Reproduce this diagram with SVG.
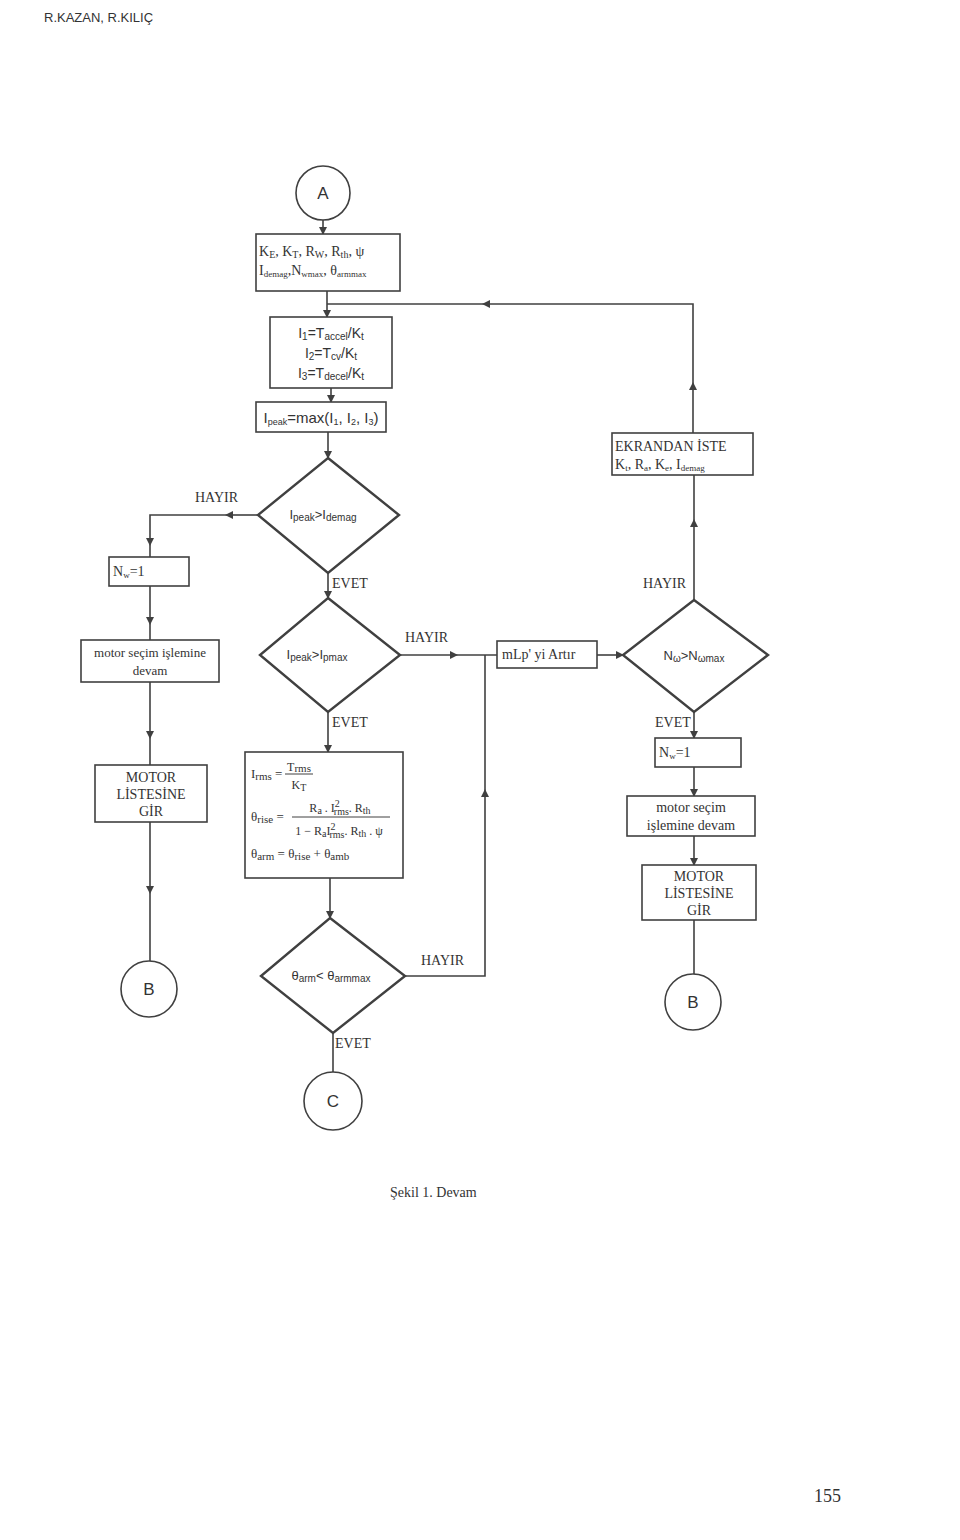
<svg xmlns="http://www.w3.org/2000/svg" width="960" height="1540" viewBox="0 0 960 1540">
<defs>
<marker id="arr" viewBox="0 0 8 8" refX="7" refY="4" markerWidth="8" markerHeight="8" markerUnits="userSpaceOnUse" orient="auto">
<path d="M0,0 L8,4 L0,8 z" fill="#404040"/>
</marker>
<style>
.box{fill:#fff;stroke:#404040;stroke-width:1.6}
.dia{fill:#fff;stroke:#404040;stroke-width:2.4}
.cir{fill:#fff;stroke:#404040;stroke-width:1.6}
.ln{fill:none;stroke:#404040;stroke-width:1.6}
.ser{font-family:"Liberation Serif",serif;fill:#333}
.san{font-family:"Liberation Sans",sans-serif;fill:#333}
</style>
</defs>
<rect width="960" height="1540" fill="#fff"/>
<text x="44" y="22" class="san" font-size="13" fill="#444">R.KAZAN, R.KILIÇ</text>

<g id="connectors">
<path class="ln" d="M323,220 V234" marker-end="url(#arr)"/>
<path class="ln" d="M327,291 V317" marker-end="url(#arr)"/>
<path class="ln" d="M693,433 V383" marker-end="url(#arr)"/>
<path class="ln" d="M693,383 V304 H483" marker-end="url(#arr)"/>
<path class="ln" d="M483,304 H327"/>
<path class="ln" d="M331,388 V402" marker-end="url(#arr)"/>
<path class="ln" d="M328,432 V458" marker-end="url(#arr)"/>
<path class="ln" d="M258,515 H226" marker-end="url(#arr)"/>
<path class="ln" d="M226,515 H150 V545" marker-end="url(#arr)"/>
<path class="ln" d="M150,545 V557"/>
<path class="ln" d="M150,586 V624" marker-end="url(#arr)"/>
<path class="ln" d="M150,624 V640"/>
<path class="ln" d="M150,682 V738" marker-end="url(#arr)"/>
<path class="ln" d="M150,738 V765"/>
<path class="ln" d="M150,822 V893" marker-end="url(#arr)"/>
<path class="ln" d="M150,893 V961"/>
<path class="ln" d="M328,573 V598" marker-end="url(#arr)"/>
<path class="ln" d="M400,655 H457" marker-end="url(#arr)"/>
<path class="ln" d="M457,655 H497"/>
<path class="ln" d="M597,655 H623" marker-end="url(#arr)"/>
<path class="ln" d="M694,600 V520" marker-end="url(#arr)"/>
<path class="ln" d="M694,520 V475"/>
<path class="ln" d="M694,712 V738" marker-end="url(#arr)"/>
<path class="ln" d="M694,767 V796" marker-end="url(#arr)"/>
<path class="ln" d="M694,836 V865" marker-end="url(#arr)"/>
<path class="ln" d="M694,920 V974"/>
<path class="ln" d="M328,712 V752" marker-end="url(#arr)"/>
<path class="ln" d="M330,878 V918" marker-end="url(#arr)"/>
<path class="ln" d="M405,976 H485 V790" marker-end="url(#arr)"/>
<path class="ln" d="M485,790 V655"/>
<path class="ln" d="M333,1033 V1073"/>
<text x="195" y="502" class="ser" font-size="14">HAYIR</text>
<text x="332" y="588" class="ser" font-size="14">EVET</text>
<text x="405" y="642" class="ser" font-size="14">HAYIR</text>
<text x="643" y="588" class="ser" font-size="14">HAYIR</text>
<text x="332" y="727" class="ser" font-size="14">EVET</text>
<text x="655" y="727" class="ser" font-size="14">EVET</text>
<text x="421" y="965" class="ser" font-size="14">HAYIR</text>
<text x="335" y="1048" class="ser" font-size="14">EVET</text>
</g>

<g id="nodeA">
<circle class="cir" cx="323" cy="193" r="27"/>
<text x="323" y="199" class="san" font-size="17" text-anchor="middle">A</text>
</g>

<g id="params">
<rect class="box" x="256" y="234" width="144" height="57"/>
<text x="259" y="256" class="ser" font-size="14">K<tspan font-size="10" dy="2">E</tspan><tspan dy="-2">, K</tspan><tspan font-size="10" dy="2">T</tspan><tspan dy="-2">, R</tspan><tspan font-size="10" dy="2">W</tspan><tspan dy="-2">, R</tspan><tspan font-size="10" dy="2">th</tspan><tspan dy="-2">, ψ</tspan></text>
<text x="259" y="275" class="ser" font-size="14">I<tspan font-size="9" dy="2">demag</tspan><tspan dy="-2">,N</tspan><tspan font-size="9" dy="2">wmax</tspan><tspan dy="-2">, θ</tspan><tspan font-size="9" dy="2">armmax</tspan></text>
</g>

<g id="currents">
<rect class="box" x="270" y="317" width="122" height="71"/>
<text x="331" y="338" class="san" font-size="14" text-anchor="middle">I<tspan font-size="10" dy="2">1</tspan><tspan dy="-2">=T</tspan><tspan font-size="10" dy="2">accel</tspan><tspan dy="-2">/K</tspan><tspan font-size="10" dy="2">t</tspan></text>
<text x="331" y="358" class="san" font-size="14" text-anchor="middle">I<tspan font-size="10" dy="2">2</tspan><tspan dy="-2">=T</tspan><tspan font-size="10" dy="2">cv</tspan><tspan dy="-2">/K</tspan><tspan font-size="10" dy="2">t</tspan></text>
<text x="331" y="378" class="san" font-size="14" text-anchor="middle">I<tspan font-size="10" dy="2">3</tspan><tspan dy="-2">=T</tspan><tspan font-size="10" dy="2">decel</tspan><tspan dy="-2">/K</tspan><tspan font-size="10" dy="2">t</tspan></text>
</g>

<g id="ipeak">
<rect class="box" x="256" y="402" width="130" height="30"/>
<text x="321" y="423" class="san" font-size="15" text-anchor="middle">I<tspan font-size="9" dy="2">peak</tspan><tspan dy="-2">=max(I</tspan><tspan font-size="9" dy="2">1</tspan><tspan dy="-2">, I</tspan><tspan font-size="9" dy="2">2</tspan><tspan dy="-2">, I</tspan><tspan font-size="9" dy="2">3</tspan><tspan dy="-2">)</tspan></text>
</g>

<g id="dec1">
<polygon class="dia" points="328,458 399,515 328,573 258,515"/>
<text x="323" y="519" class="san" font-size="13" text-anchor="middle">I<tspan font-size="10" dy="2">peak</tspan><tspan dy="-2">&gt;I</tspan><tspan font-size="10" dy="2">demag</tspan></text>
</g>

<g id="nw1left">
<rect class="box" x="109" y="557" width="80" height="29"/>
<text x="113" y="576" class="ser" font-size="14">N<tspan font-size="9" dy="2">w</tspan><tspan dy="-2">=1</tspan></text>
</g>

<g id="motorleft">
<rect class="box" x="81" y="640" width="138" height="42"/>
<text x="150" y="657" class="ser" font-size="13" text-anchor="middle">motor seçim işlemine</text>
<text x="150" y="675" class="ser" font-size="13" text-anchor="middle">devam</text>
</g>

<g id="listleft">
<rect class="box" x="95" y="765" width="112" height="57"/>
<text x="151" y="782" class="ser" font-size="14" text-anchor="middle">MOTOR</text>
<text x="151" y="799" class="ser" font-size="14" text-anchor="middle">LİSTESİNE</text>
<text x="151" y="816" class="ser" font-size="14" text-anchor="middle">GİR</text>
</g>

<g id="nodeBleft">
<circle class="cir" cx="149" cy="989" r="28"/>
<text x="149" y="995" class="san" font-size="17" text-anchor="middle">B</text>
</g>

<g id="dec2">
<polygon class="dia" points="328,598 400,655 328,712 260,655"/>
<text x="317" y="659" class="san" font-size="13" text-anchor="middle">I<tspan font-size="10" dy="2">peak</tspan><tspan dy="-2">&gt;I</tspan><tspan font-size="10" dy="2">pmax</tspan></text>
</g>

<g id="mlp">
<rect class="box" x="497" y="641" width="100" height="27"/>
<text x="502" y="659" class="ser" font-size="14">mLp' yi Artır</text>
</g>

<g id="dec3">
<polygon class="dia" points="694,600 768,655 694,712 623,655"/>
<text x="694" y="660" class="san" font-size="13" text-anchor="middle">N<tspan font-size="10" dy="2">ω</tspan><tspan dy="-2">&gt;N</tspan><tspan font-size="10" dy="2">ωmax</tspan></text>
</g>

<g id="ekran">
<rect class="box" x="612" y="433" width="141" height="42"/>
<text x="615" y="451" class="ser" font-size="14">EKRANDAN İSTE</text>
<text x="615" y="469" class="ser" font-size="14">K<tspan font-size="9" dy="2">t</tspan><tspan dy="-2">, R</tspan><tspan font-size="9" dy="2">a</tspan><tspan dy="-2">, K</tspan><tspan font-size="9" dy="2">e</tspan><tspan dy="-2">, I</tspan><tspan font-size="9" dy="2">demag</tspan></text>
</g>

<g id="nw1right">
<rect class="box" x="655" y="738" width="86" height="29"/>
<text x="659" y="757" class="ser" font-size="14">N<tspan font-size="9" dy="2">w</tspan><tspan dy="-2">=1</tspan></text>
</g>

<g id="motorright">
<rect class="box" x="627" y="796" width="128" height="40"/>
<text x="691" y="812" class="ser" font-size="14" text-anchor="middle">motor seçim</text>
<text x="691" y="830" class="ser" font-size="14" text-anchor="middle">işlemine devam</text>
</g>

<g id="listright">
<rect class="box" x="642" y="865" width="114" height="55"/>
<text x="699" y="881" class="ser" font-size="14" text-anchor="middle">MOTOR</text>
<text x="699" y="898" class="ser" font-size="14" text-anchor="middle">LİSTESİNE</text>
<text x="699" y="915" class="ser" font-size="14" text-anchor="middle">GİR</text>
</g>

<g id="nodeBright">
<circle class="cir" cx="693" cy="1002" r="28"/>
<text x="693" y="1008" class="san" font-size="17" text-anchor="middle">B</text>
</g>

<g id="formulas">
<rect class="box" x="245" y="752" width="158" height="126"/>
<text x="251" y="778" class="ser" font-size="13">I<tspan font-size="11" dy="2">rms</tspan><tspan dy="-2"> =</tspan></text>
<text x="299" y="771" class="ser" font-size="12" text-anchor="middle">T<tspan font-size="11" dy="1">rms</tspan></text>
<line x1="285" y1="774" x2="313" y2="774" stroke="#404040" stroke-width="1"/>
<text x="299" y="789" class="ser" font-size="12" text-anchor="middle">K<tspan font-size="10" dy="2">T</tspan></text>
<text x="251" y="821" class="ser" font-size="13">θ<tspan font-size="11" dy="2">rise</tspan><tspan dy="-2"> =</tspan></text>
<text x="340" y="812" class="ser" font-size="12" text-anchor="middle">R<tspan font-size="10" dy="2">a</tspan><tspan dy="-2"> . I</tspan><tspan font-size="10" dy="-5">2</tspan><tspan font-size="10" dx="-6" dy="8">rms</tspan><tspan dy="-3">. R</tspan><tspan font-size="10" dy="2">th</tspan></text>
<line x1="292" y1="817" x2="390" y2="817" stroke="#404040" stroke-width="1"/>
<text x="339" y="835" class="ser" font-size="12" text-anchor="middle">1 − R<tspan font-size="10" dy="2">a</tspan><tspan dy="-2">I</tspan><tspan font-size="10" dy="-5">2</tspan><tspan font-size="10" dx="-6" dy="8">rms</tspan><tspan dy="-3">. R</tspan><tspan font-size="10" dy="2">th</tspan><tspan dy="-2"> . ψ</tspan></text>
<text x="251" y="858" class="ser" font-size="13">θ<tspan font-size="11" dy="2">arm</tspan><tspan dy="-2"> = θ</tspan><tspan font-size="11" dy="2">rise</tspan><tspan dy="-2"> + θ</tspan><tspan font-size="11" dy="2">amb</tspan></text>
</g>

<g id="dec4">
<polygon class="dia" points="330,918 405,976 333,1033 261,976"/>
<text x="331" y="980" class="san" font-size="13" text-anchor="middle">θ<tspan font-size="10" dy="2">arm</tspan><tspan dy="-2">&lt; θ</tspan><tspan font-size="10" dy="2">armmax</tspan></text>
</g>

<g id="nodeC">
<circle class="cir" cx="333" cy="1101" r="29"/>
<text x="333" y="1107" class="san" font-size="17" text-anchor="middle">C</text>
</g>

<text x="390" y="1197" class="ser" font-size="14">Şekil 1. Devam</text>
<text x="814" y="1502" class="ser" font-size="18" fill="#555">155</text>
</svg>
